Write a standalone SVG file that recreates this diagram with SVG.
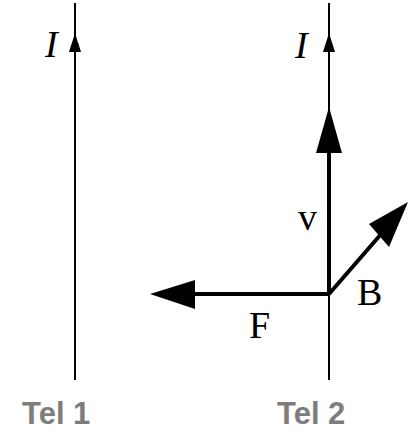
<svg xmlns="http://www.w3.org/2000/svg" width="414" height="435" viewBox="0 0 414 435">
<style>
.wire{stroke:#000;stroke-width:2;fill:none}
.vec{stroke:#000;stroke-width:4;fill:none}
.head{fill:#000;stroke:none}
.lbl{font-family:"Liberation Serif",serif;font-size:38px;fill:#000}
.it{font-style:italic}
.tel{font-family:"Liberation Sans",Arial,sans-serif;font-size:31px;font-weight:bold;fill:#7d7d7d}
</style>
<rect width="414" height="435" fill="#fff"/>
<g id="wire1">
<line class="wire" x1="75" y1="3" x2="75" y2="380"/>
<polygon class="head" points="75,33 69,52 81,52"/>
<text class="lbl it" x="45" y="57">I</text>
<text class="tel" x="22" y="424">Tel 1</text>
</g>
<g id="wire2">
<line class="wire" x1="329" y1="3" x2="329" y2="380"/>
<polygon class="head" points="329,33 323,52 335,52"/>
<text class="lbl it" x="295" y="58">I</text>
<text class="tel" x="277" y="424">Tel 2</text>
</g>
<g id="connectors">
<g id="v-vector">
<line class="vec" x1="329" y1="294" x2="329" y2="150"/>
<polygon class="head" points="329,107 316,153 342,153"/>
</g>
<g id="F-vector">
<line class="vec" x1="329" y1="294" x2="190" y2="294"/>
<polygon class="head" points="150,294 195,280 195,309"/>
</g>
<g id="B-vector">
<line class="vec" x1="329" y1="294" x2="382" y2="233"/>
<polygon class="head" points="408,202 369,224 389,247"/>
</g>
</g>
<g id="labels">
<text class="lbl" x="298" y="230">v</text>
<text class="lbl" x="357" y="305">B</text>
<text class="lbl" x="249" y="338">F</text>
</g>
</svg>
